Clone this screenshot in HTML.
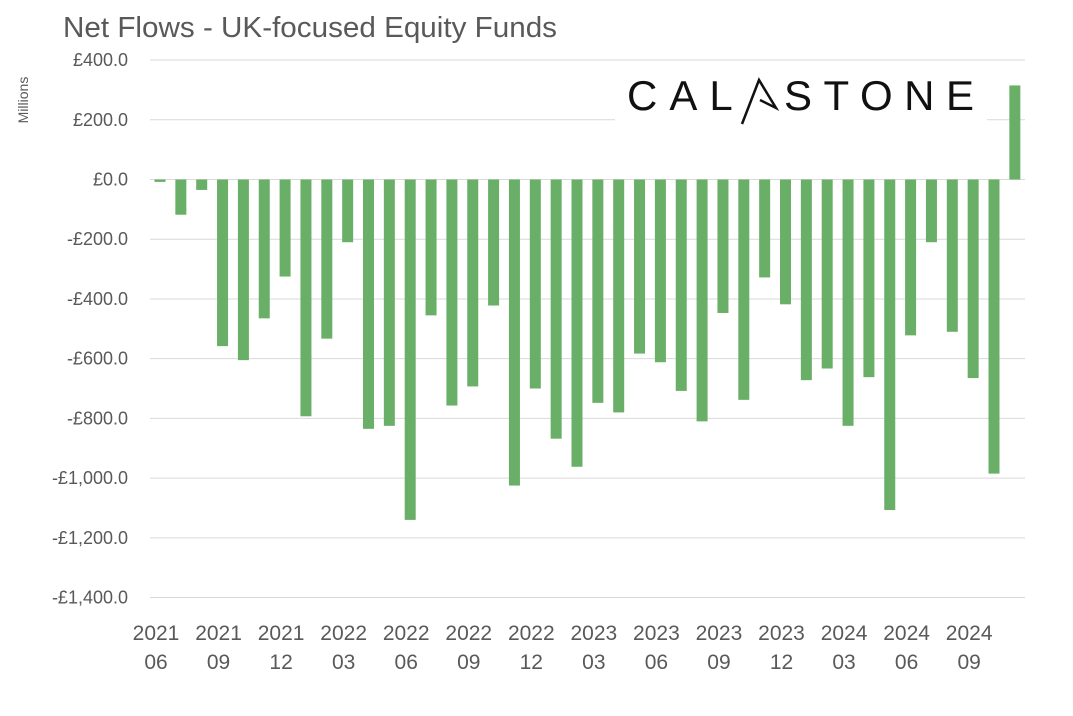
<!DOCTYPE html>
<html><head><meta charset="utf-8"><style>
body{margin:0;background:#fff;}
svg{display:block;font-family:"Liberation Sans",sans-serif;}
</style></head><body>
<svg width="1073" height="716" xmlns="http://www.w3.org/2000/svg">
<text x="63" y="37" font-size="29" fill="#595959" textLength="494" lengthAdjust="spacingAndGlyphs">Net Flows - UK-focused Equity Funds</text>
<text transform="translate(28,100) rotate(-90)" font-size="14" fill="#595959" text-anchor="middle">Millions</text>
<g id="grid" stroke="#d9d9d9" stroke-width="1"></g>
<g id="ylab" font-size="18" fill="#595959" text-anchor="end"></g>
<g id="bars" fill="#6aaf68"></g>
<g id="xlab" font-size="21" fill="#595959" text-anchor="middle"></g>
<rect x="615" y="66" width="372" height="58" fill="#fff"/>
<text x="627" y="110" font-size="42" fill="#111" letter-spacing="12">CAL</text>
<path d="M742 124 L759 80 L776 108 L760 100" fill="none" stroke="#111" stroke-width="2.5"/>
<text x="784" y="110" font-size="42" fill="#111" textLength="190" lengthAdjust="spacing">STONE</text>
<script>
var z=179.5,s=0.2986;
var g=document.getElementById('grid'),yl=document.getElementById('ylab'),b=document.getElementById('bars'),xl=document.getElementById('xlab');
var ns='http://www.w3.org/2000/svg';
function el(p,t,a,tx){var e=document.createElementNS(ns,t);for(var k in a)e.setAttribute(k,a[k]);if(tx)e.textContent=tx;p.appendChild(e);}
for(var v=400;v>=-1400;v-=200){var y=z-v*s;el(g,'line',{x1:150,x2:1025,y1:y,y2:y});
var t=(v<0?'-':'')+'£'+Math.abs(v).toLocaleString('en-US')+'.0';if(v==0)t='£0.0';el(yl,'text',{x:128,y:y+6},t);}
var d=[-8,-118,-35,-558,-605,-465,-325,-793,-533,-210,-835,-825,-1140,-455,-757,-693,-422,-1025,-700,-868,-962,-748,-780,-583,-612,-708,-810,-447,-738,-328,-418,-672,-633,-825,-662,-1107,-522,-210,-510,-665,-985,315];
d.forEach(function(v,i){var x=160+20.85*i;var h=Math.abs(v)*s;el(b,'rect',{x:x-5.5,width:11,y:v<0?z:z-h,height:Math.max(h,1)});});
var yrs=[['2021','06'],['2021','09'],['2021','12'],['2022','03'],['2022','06'],['2022','09'],['2022','12'],['2023','03'],['2023','06'],['2023','09'],['2023','12'],['2024','03'],['2024','06'],['2024','09']];
yrs.forEach(function(p,i){var x=160+20.85*3*i-4;el(xl,'text',{x:x,y:640},p[0]);el(xl,'text',{x:x,y:669},p[1]);});
</script>
</svg>
</body></html>
